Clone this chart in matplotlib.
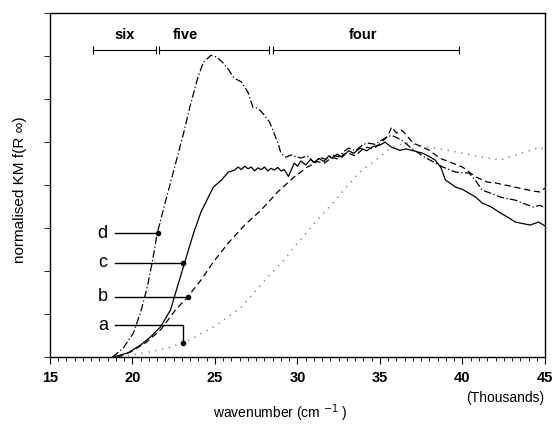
import numpy as np
import matplotlib.pyplot as plt
from matplotlib.ticker import MultipleLocator, NullFormatter

plt.rcParams['font.family'] = ['Liberation Sans', 'DejaVu Sans']

# curve a (dotted)
a_x = [19.3, 21.1, 22.3, 23.5, 25.1, 26.6, 28.2, 29.2, 29.8, 31.2, 32.3, 32.9,
       33.7, 34.9, 35.7, 36.6, 38.0, 39.1, 40.0, 41.2, 42.3, 43.2, 44.7, 45.0]
a_y = [0.0, 0.12, 0.23, 0.40, 0.74, 1.16, 1.86, 2.26, 2.56, 3.19, 3.65, 3.93,
       4.28, 4.63, 4.88, 4.98, 4.88, 4.81, 4.74, 4.65, 4.58, 4.70, 4.88, 4.81]

# curve b (dashed)
b_x = [19.1, 19.9, 20.8, 21.7, 22.6, 23.35, 24.15, 24.9, 25.8, 26.8, 27.8, 28.8,
       29.8, 30.2, 30.5, 30.85, 31.2, 31.6, 32.1, 32.5, 32.8, 33.1, 33.5, 33.9,
       34.2, 34.6, 35.1, 35.5, 35.7, 36.0, 36.3, 36.5, 37.0, 37.6, 38.0, 38.6,
       39.4, 40.0, 40.8, 41.5, 42.0, 42.6, 43.2, 43.8, 44.3, 44.7, 45.0]
b_y = [0.0, 0.12, 0.33, 0.63, 1.09, 1.40, 1.79, 2.21, 2.65, 3.07, 3.42, 3.84,
       4.19, 4.30, 4.40, 4.47, 4.55, 4.50, 4.65, 4.60, 4.72, 4.74, 4.68, 4.82,
       4.88, 4.84, 5.00, 5.16, 5.35, 5.21, 5.28, 5.21, 4.98, 4.88, 4.81, 4.63,
       4.51, 4.42, 4.19, 4.07, 4.05, 4.00, 3.95, 3.90, 3.86, 3.84, 3.93]

# curve c (solid)
c_x = [18.8, 19.7, 20.5, 21.1, 21.7, 22.3, 22.9, 23.3, 23.7, 24.15, 24.6, 24.9,
       25.4, 25.8, 26.2, 26.4, 26.6, 26.8, 27.0, 27.2, 27.4, 27.6, 27.8, 28.0,
       28.2, 28.4, 28.6, 28.8, 29.0, 29.2, 29.45, 29.8, 30.0, 30.2, 30.5, 30.8,
       31.0, 31.3, 31.6, 31.9, 32.1, 32.4, 32.7, 33.1, 33.4, 33.8, 34.2, 34.6,
       35.0, 35.3, 35.7, 36.2, 36.6, 37.0, 37.6, 38.0, 38.35, 38.7, 38.96, 39.6,
       40.0, 40.4, 40.8, 41.2, 41.7, 42.3, 42.8, 43.2, 43.7, 44.1, 44.6, 45.0]
c_y = [0.0, 0.09, 0.28, 0.47, 0.70, 1.09, 1.86, 2.37, 2.88, 3.37, 3.72, 3.95,
       4.12, 4.30, 4.35, 4.42, 4.36, 4.44, 4.38, 4.42, 4.33, 4.40, 4.36, 4.42,
       4.33, 4.39, 4.35, 4.41, 4.33, 4.36, 4.20, 4.51, 4.44, 4.56, 4.47, 4.60,
       4.52, 4.62, 4.55, 4.68, 4.62, 4.72, 4.65, 4.80, 4.74, 4.86, 4.80, 4.90,
       4.93, 5.00, 4.88, 4.81, 4.84, 4.80, 4.74, 4.66, 4.58, 4.40, 4.12, 3.95,
       3.90, 3.81, 3.72, 3.58, 3.50, 3.35, 3.24, 3.14, 3.10, 3.07, 3.14, 3.05]

# curve d (dash-dot)
d_x = [18.8, 19.45, 20.06, 20.5, 20.9, 21.2, 21.5, 21.9, 22.3, 22.7, 23.1, 23.5,
       23.96, 24.3, 24.76, 25.1, 25.5, 25.85, 26.16, 26.6, 27.0, 27.3, 27.6, 27.9,
       28.3, 28.6, 28.84, 29.0, 29.3, 29.6, 30.2, 30.6, 31.0, 31.4, 31.7, 32.1,
       32.5, 32.8, 33.1, 33.5, 33.9, 34.2, 34.7, 35.1, 35.7, 36.3, 36.9, 37.7,
       38.8, 39.6, 40.4, 40.8, 41.2, 41.8, 42.3, 42.8, 43.2, 43.8, 44.3, 44.7, 45.0]
d_y = [0.0, 0.21, 0.56, 1.05, 1.63, 2.21, 2.88, 3.47, 4.05, 4.63, 5.21, 5.85,
       6.50, 6.86, 7.02, 6.98, 6.84, 6.67, 6.49, 6.40, 6.16, 5.81, 5.79, 5.67,
       5.47, 5.19, 4.95, 4.74, 4.65, 4.70, 4.63, 4.68, 4.53, 4.64, 4.60, 4.70,
       4.66, 4.78, 4.86, 4.80, 4.92, 4.98, 4.95, 5.05, 5.16, 5.05, 4.86, 4.65,
       4.42, 4.30, 4.28, 4.10, 3.88, 3.80, 3.72, 3.68, 3.65, 3.56, 3.49, 3.53, 3.47]

# curve labels: name, label y, marker x, marker y
lab_names = ['d', 'c', 'b', 'a']
lab_y = [2.88, 2.19, 1.40, 0.74]
mark_x = [21.52, 23.05, 23.35, 23.05]
mark_y = [2.88, 2.19, 1.40, 0.33]

# ring-size bands along the top
band_names = ['six', 'five', 'four']
band_start = [17.6, 21.6, 28.5]
band_end = [21.4, 28.3, 39.8]
band_text_x = [19.5, 23.2, 34.0]

fig = plt.figure(figsize=(5.55, 4.25), dpi=100)
ax = fig.add_axes([0.09, 0.16, 0.892, 0.809])

ax.plot(a_x, a_y, color='0.5', lw=1.0, ls=(0, (1, 4)))
ax.plot(b_x, b_y, color='black', lw=0.9, ls=(0, (5, 3)))
ax.plot(c_x, c_y, color='black', lw=0.9, ls='-')
ax.plot(d_x, d_y, color='black', lw=0.9, ls=(0, (6, 2, 1, 2)))

for name, ly, mx, my in zip(lab_names, lab_y, mark_x, mark_y):
    ax.plot([18.96, mx, mx], [ly, ly, my], color='black', lw=1.0)
    ax.plot(mx, my, 'o', color='black', ms=3)
    ax.text(18.2, ly, name, fontsize=13, ha='center', va='center')

band_y = 7.14
for name, s, e, tx in zip(band_names, band_start, band_end, band_text_x):
    ax.plot([s, e], [band_y, band_y], color='black', lw=0.8)
    ax.vlines([s, e], band_y - 0.1, band_y + 0.1, color='black', lw=0.8)
    ax.text(tx, band_y + 0.2, name, fontsize=10.5, fontweight='bold',
            ha='center', va='bottom')

ax.set_xlim(15, 45)
ax.set_ylim(0, 8)
ax.xaxis.set_major_locator(MultipleLocator(5))
ax.xaxis.set_minor_locator(MultipleLocator(0.5))
ax.yaxis.set_major_locator(MultipleLocator(1))
ax.yaxis.set_major_formatter(NullFormatter())
ax.tick_params(axis='x', which='major', direction='out', length=5, width=0.8,
               labelsize=10.5, pad=5)
ax.tick_params(axis='x', which='minor', direction='out', length=3, width=0.6)
ax.tick_params(axis='y', which='major', direction='out', length=4, width=0.6)
for lbl in ax.get_xticklabels():
    lbl.set_fontweight('bold')
for sp in ax.spines.values():
    sp.set_linewidth(1.0)

fig.text(280 / 555, 1 - 413 / 425, 'wavenumber (cm $^{-1}$ )', fontsize=10,
         ha='center', va='center')
fig.text(20 / 555, 1 - 190 / 425, 'normalised KM f(R \u221e)', fontsize=11,
         rotation=90, ha='center', va='center')
fig.text(544 / 555, 1 - 398 / 425, '(Thousands)', fontsize=10,
         ha='right', va='center')

fig.savefig('out.png', dpi=100)
